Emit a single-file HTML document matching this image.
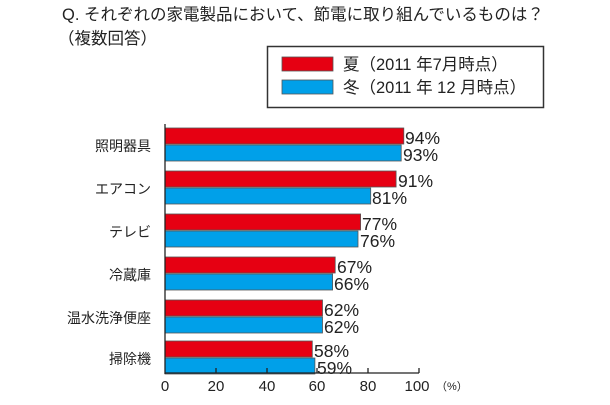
<!DOCTYPE html>
<html><head><meta charset="utf-8"><style>
body{margin:0;background:#fff;}
svg text{font-family:"Liberation Sans","Noto Sans CJK JP",sans-serif;fill:#222;}
</style></head><body>
<svg width="610" height="400" xmlns="http://www.w3.org/2000/svg">
<text x="62" y="20" font-size="16.5">Q. それぞれの家電製品において、節電に取り組んでいるものは？</text>
<text x="58" y="44" font-size="16.5">（複数回答）</text>
<rect x="267.5" y="46.5" width="276" height="61" fill="#fff" stroke="#333" stroke-width="1.5"/>
<rect x="282" y="57" width="51" height="14" fill="#e60012" stroke="#555" stroke-width="0.8"/>
<rect x="282" y="80" width="51" height="14" fill="#00a0e9" stroke="#555" stroke-width="0.8"/>
<text x="343" y="70" font-size="16.5">夏（2011 年7月時点）</text>
<text x="343" y="93" font-size="16.5">冬（2011 年 12 月時点）</text>
<g stroke="#555" stroke-width="0.8">
<rect x="165" y="128" width="238.8" height="16" fill="#e60012"/>
<rect x="165" y="145" width="236.2" height="16" fill="#00a0e9"/>
<rect x="165" y="171" width="231.1" height="16" fill="#e60012"/>
<rect x="165" y="188" width="205.7" height="16" fill="#00a0e9"/>
<rect x="165" y="214" width="195.6" height="16" fill="#e60012"/>
<rect x="165" y="231" width="193" height="16" fill="#00a0e9"/>
<rect x="165" y="257" width="170.2" height="16" fill="#e60012"/>
<rect x="165" y="274" width="167.6" height="16" fill="#00a0e9"/>
<rect x="165" y="300" width="157.5" height="16" fill="#e60012"/>
<rect x="165" y="317" width="157.5" height="16" fill="#00a0e9"/>
<rect x="165" y="341" width="147.3" height="16" fill="#e60012"/>
<rect x="165" y="358" width="149.9" height="16" fill="#00a0e9"/>
</g>
<g font-size="17.5" fill="#333">
<text x="405" y="144">94%</text><text x="403" y="161">93%</text>
<text x="398" y="187">91%</text><text x="372" y="204">81%</text>
<text x="362" y="230">77%</text><text x="360" y="247">76%</text>
<text x="337" y="273">67%</text><text x="334" y="290">66%</text>
<text x="324" y="316">62%</text><text x="324" y="333">62%</text>
<text x="314" y="357">58%</text><text x="317" y="374">59%</text>
</g>
<g font-size="14" text-anchor="end">
<text x="151" y="151">照明器具</text>
<text x="151" y="194">エアコン</text>
<text x="151" y="237">テレビ</text>
<text x="151" y="280">冷蔵庫</text>
<text x="151" y="323">温水洗浄便座</text>
<text x="151" y="364">掃除機</text>
</g>
<g stroke="#222" stroke-width="1.3">
<line x1="165" y1="124" x2="165" y2="374"/>
<line x1="165" y1="373" x2="419" y2="373"/>
<line x1="216" y1="373" x2="216" y2="368"/>
<line x1="267" y1="373" x2="267" y2="368"/>
<line x1="317" y1="373" x2="317" y2="368"/>
<line x1="368" y1="373" x2="368" y2="368"/>
<line x1="419" y1="373" x2="419" y2="368"/>
</g>
<g font-size="15" text-anchor="middle">
<text x="165" y="391">0</text><text x="216" y="391">20</text><text x="267" y="391">40</text>
<text x="317" y="391">60</text><text x="368" y="391">80</text><text x="417" y="391">100</text>
</g>
<text x="436" y="390" font-size="11">（%）</text>
</svg>
</body></html>
